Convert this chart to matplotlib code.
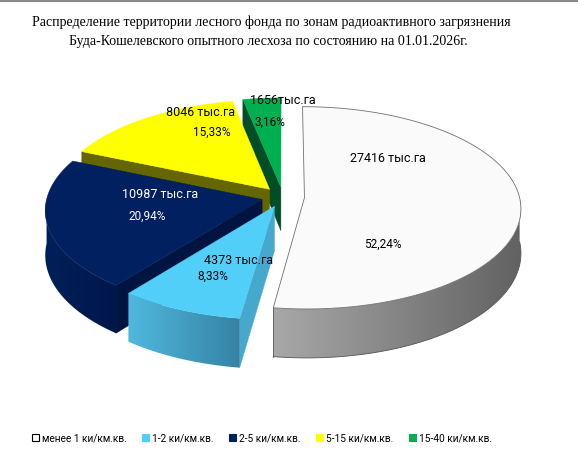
import numpy as np
import matplotlib
matplotlib.use("Agg")
import matplotlib.pyplot as plt
from matplotlib.patches import Polygon, Patch
from matplotlib.colors import to_rgb

plt.rcParams['font.family'] = ['Roboto', 'DejaVu Sans']

# данные
zones = ['менее 1 ки/км.кв.', '1-2 ки/км.кв.', '2-5 ки/км.кв.', '5-15 ки/км.кв.', '15-40 ки/км.кв.']
area = [27416, 4373, 10987, 8046, 1656]
area_labels = ['27416 тыс.га', '4373 тыс.га', '10987 тыс.га', '8046 тыс.га', '1656тыс.га']
pct_labels = ['52,24%', '8,33%', '20,94%', '15,33%', '3,16%']
top_colors = ['#fafafa', '#52cff9', '#002060', '#ffff00', '#00b050']
edge_colors = ['#8c8c8c', '#45a8cc', '#001442', '#666600', '#004d26']
side_left = ['#a8a8a8', '#50b8de', '#00205a', '#666600', '#004d26']
side_right = ['#626262', '#3583a4', '#00174a', '#666600', '#004d26']
text_colors = ['black', 'black', 'white', 'black', 'black']
# позиции подписей (пиксели)
area_pos = [(388, 159), (239, 260), (160, 194), (201, 113), (283, 101)]
pct_pos = [(383, 244), (213, 276), (147, 216), (212, 132), (270, 122)]

# геометрия "3D" круга (в пикселях картинки)
cx, cy = 283, 197
rx, ry = 215, 100
persp = 0.1
depth = 44
explode = 0.1


def proj(u, v):
    s = 1.0 / (1.0 + persp * v)
    return cx + rx * u * s, cy - ry * v * s, s


fig = plt.figure(figsize=(5.78, 4.66), dpi=100)
ax = fig.add_axes([0, 0, 1, 1])
ax.axis('off')

frac = np.array(area) / sum(area)
bounds = np.concatenate([[0], np.cumsum(frac)]) * 360

slices = []
for i in range(len(area)):
    a1, a2 = bounds[i], bounds[i + 1]
    mid = np.radians((a1 + a2) / 2)
    slices.append((i, a1, a2, explode * np.sin(mid), explode * np.cos(mid)))

# рисуем от дальних к ближним
order = sorted(slices, key=lambda t: -t[4])


def rim(a, eu, ev):
    t = np.radians(a)
    return proj(eu + np.sin(t), ev + np.cos(t))


z = 1
for i, a1, a2, eu, ev in order:
    tx, ty, ts = proj(eu, ev)
    # боковая радиальная грань (начало сектора)
    if np.cos(np.radians(a1 - 90)) < -0.01:
        x1, y1, s1 = rim(a1, eu, ev)
        poly = [(tx, ty), (x1, y1), (x1, y1 + depth * s1), (tx, ty + depth * ts)]
        ax.add_patch(Polygon(poly, closed=True, fc=edge_colors[i], ec=edge_colors[i], lw=0.3, zorder=z))
    z += 1
    # внешняя боковая поверхность с градиентом
    lo, hi = max(a1, 90), min(a2, 270)
    if hi > lo:
        angs = np.linspace(lo, hi, 120)
        xs, ys, ss = map(np.array, zip(*[rim(a, eu, ev) for a in angs]))
        yb = ys + depth * ss
        pts = np.vstack([np.column_stack([xs, ys]), np.column_stack([xs[::-1], yb[::-1]])])
        side = Polygon(pts, closed=True, fc='none', ec='none', zorder=z)
        ax.add_patch(side)
        c0, c1 = np.array(to_rgb(side_left[i])), np.array(to_rgb(side_right[i]))
        t = np.linspace(0, 1, 256)[None, :, None]
        grad = c0 + (c1 - c0) * t
        im = ax.imshow(grad, extent=(xs.min(), xs.max(), yb.max(), ys.min()),
                       aspect='auto', zorder=z, interpolation='bilinear')
        im.set_clip_path(side)
        if i == 0:
            ax.plot(xs, yb, color='#555555', lw=0.6, zorder=z + 0.5)
            ax.plot([xs[-1], xs[-1]], [ys[-1], yb[-1]], color='#555555', lw=0.6, zorder=z + 0.5)
    z += 1
    # верхняя грань
    angs = np.linspace(a1, a2, 160)
    pts = [(tx, ty)] + [rim(a, eu, ev)[:2] for a in angs]
    ec = '#707070' if i == 0 else top_colors[i]
    ax.add_patch(Polygon(pts, closed=True, fc=top_colors[i], ec=ec, lw=0.6 if i == 0 else 0.3, zorder=z))
    z += 1

# подписи
for i in range(len(area)):
    ax.text(*area_pos[i], area_labels[i], ha='center', va='center', fontsize=9,
            color=text_colors[i], zorder=50)
    ax.text(*pct_pos[i], pct_labels[i], ha='center', va='center', fontsize=8.5,
            color=text_colors[i], zorder=50)

ax.text(271, 22, 'Распределение территории лесного фонда по зонам радиоактивного загрязнения',
        ha='center', va='center', fontsize=10, family='Liberation Serif')
ax.text(268, 42, 'Буда-Кошелевского опытного лесхоза по состоянию на 01.01.2026г.',
        ha='center', va='center', fontsize=10, family='Liberation Serif')
ax.plot([0, 578], [0.5, 0.5], color='#888888', lw=1.5)

handles = [Patch(fc=c, ec='black' if i == 0 else c, lw=0.8) for i, c in enumerate(top_colors)]
ax.legend(handles, zones, loc='center', bbox_to_anchor=(262 / 578, 1 - 438 / 466), ncol=5,
          frameon=False, fontsize=7.3, handlelength=0.7, handleheight=0.7,
          handletextpad=0.3, columnspacing=1.5)

ax.set_xlim(0, 578)
ax.set_ylim(466, 0)
fig.savefig('out.png', dpi=100)
